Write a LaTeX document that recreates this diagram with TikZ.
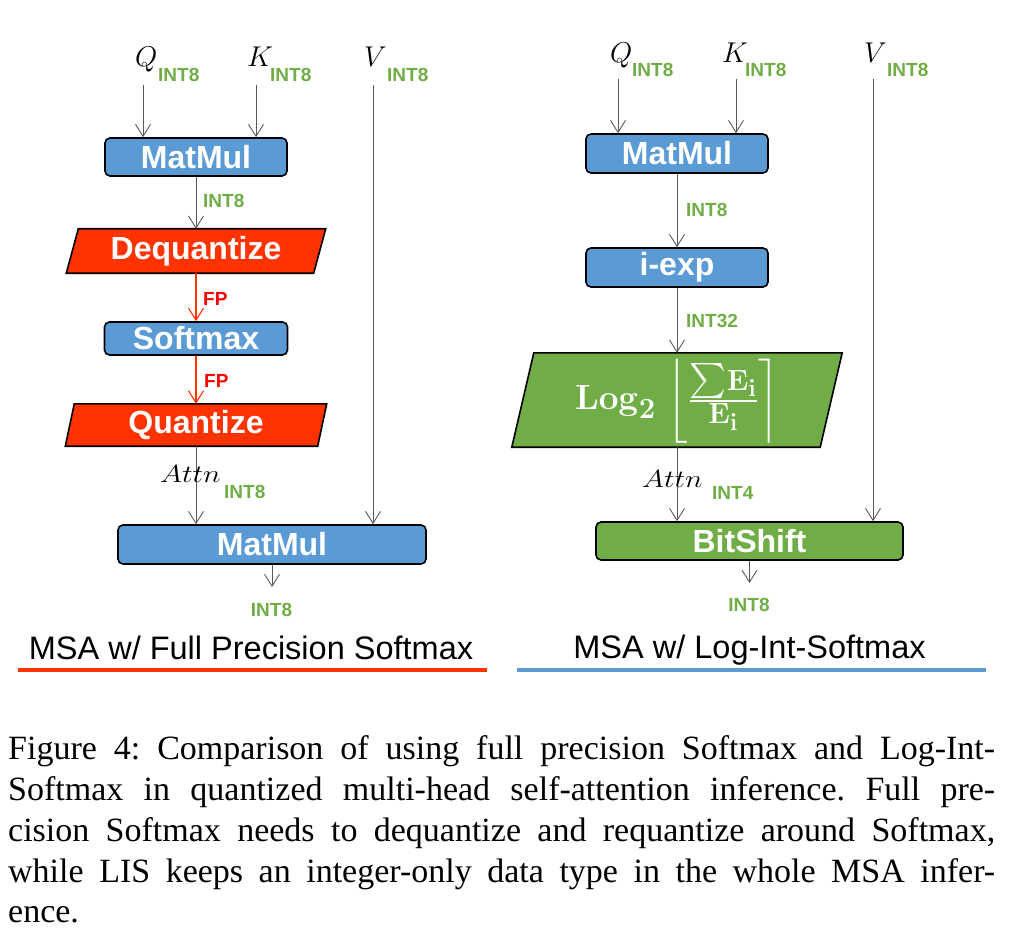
\RequirePackage{fix-cm}
\documentclass[tikz,border=0pt]{standalone}
\usepackage{amsmath}
\usepackage{graphicx}
\usepackage[no-math]{fontspec}
\setmainfont{Liberation Serif}
\setsansfont{Liberation Sans}
\usetikzlibrary{arrows.meta,backgrounds}
\definecolor{boxblue}{HTML}{5B9BD5}
\definecolor{boxred}{HTML}{FF3300}
\definecolor{boxgreen}{HTML}{70AD47}
\definecolor{txtgreen}{HTML}{70AD47}
\definecolor{fpred}{HTML}{FF0000}
\definecolor{arrowgray}{HTML}{595959}
\newcommand\labelfont{\sffamily\bfseries\fontsize{32}{36}\selectfont}
\newcommand\subfont{\sffamily\bfseries\fontsize{19}{22}\selectfont}
\newcommand\mathbase{\fontsize{24.88}{30}\selectfont}
\newcommand\titlefont{\sffamily\fontsize{32.5}{36}\selectfont}
\newcommand\capfont{\rmfamily\fontsize{34}{40}\selectfont\frenchspacing}
\newcommand\bigvar[1]{\scalebox{1.15}{$#1$}}
\newcommand\attnword{\scalebox{1.2}[1.0]{$Attn$}}
\tikzset{
  box/.style={draw=black, line width=1.6pt, rounded corners=5pt, inner sep=0pt, font=\labelfont, text=white},
  pnode/.style={inner sep=0pt, font=\labelfont, text=white},
  pgram/.style={draw=black, line width=1.6pt},
  flow/.style={draw=arrowgray, line width=0.9pt, -{Straight Barb[length=12pt,width=15pt]}},
  fpflow/.style={draw=boxred, line width=1.1pt, -{Straight Barb[length=12pt,width=15pt]}},
  sublabel/.style={anchor=base west, inner sep=0pt, font=\subfont, text=txtgreen},
  fplabel/.style={anchor=base west, inner sep=0pt, font=\subfont, text=fpred},
  varlabel/.style={anchor=base west, inner sep=0pt, font=\mathbase},
  title/.style={anchor=base, inner sep=0pt, font=\titlefont},
  capline/.style={anchor=base west, inner sep=0pt, font=\capfont},
}
\begin{document}
\begin{tikzpicture}[x=1pt,y=-1pt]
\useasboundingbox (0,0) rectangle (1012,944);

% ---------------- left panel ----------------
\node[varlabel] (Q1) at (135,67) {\bigvar{Q}};
\node[sublabel] (Q1s) at (158,82) {INT8};
\node[varlabel] (K1) at (247,67) {\bigvar{K}};
\node[sublabel] (K1s) at (270,82) {INT8};
\node[varlabel] (V1) at (364,67) {\bigvar{V}};
\node[sublabel] (V1s) at (387,82) {INT8};
\coordinate (q1) at (143,85);
\coordinate (k1) at (256,85);
\coordinate (v1) at (373,85);

\node[box, fill=boxblue, minimum width=182pt, minimum height=38pt] (mm1) at (196,157) {MatMul};
\node[pnode, minimum width=259pt, minimum height=44pt] (deq) at (196,251) {Dequantize};
\node[box, fill=boxblue, minimum width=183pt, minimum height=33pt] (sm) at (196,338.5) {Softmax};
\node[pnode, minimum width=261pt, minimum height=42pt] (qua) at (196,425) {Quantize};
\node[box, fill=boxblue, minimum width=308pt, minimum height=39pt] (mm2) at (272,544.5) {MatMul};
\begin{scope}[on background layer]
  \filldraw[pgram, fill=boxred] ([xshift=12pt]deq.north west) -- (deq.north east) -- ([xshift=-12pt]deq.south east) -- (deq.south west) -- cycle;
  \filldraw[pgram, fill=boxred] ([xshift=9pt]qua.north west) -- (qua.north east) -- ([xshift=-9pt]qua.south east) -- (qua.south west) -- cycle;
\end{scope}

\draw[flow] (q1) -- (q1 |- mm1.north);
\draw[flow] (k1) -- (k1 |- mm1.north);
\draw[flow] (v1) -- (v1 |- mm2.north);
\draw[flow] (mm1.south) -- (deq.north);
\node[sublabel] (l1) at (203,208) {INT8};
\draw[fpflow] (deq.south) -- (sm.north);
\node[fplabel] (fp1) at (203,305) {FP};
\draw[fpflow] (sm.south) -- (qua.north);
\node[fplabel] (fp2) at (204,387) {FP};
\draw[flow] (qua.south) -- (qua.south |- mm2.north);
\node[varlabel] (at1) at (160,482) {\attnword};
\node[sublabel] (at1s) at (224,498) {INT8};
\coordinate (o1) at (272,587);
\draw[flow] (mm2.south) -- (o1);
\node[anchor=base, inner sep=0pt, font=\subfont, text=txtgreen] (out1) at (271.5,616) {INT8};

\node[title] (t1) at (251,659) {MSA w/ Full Precision Softmax};
\draw[boxred, line width=4pt] (18,670) -- (487,670);

% ---------------- right panel ----------------
\node[varlabel] (Q2) at (610,63) {\bigvar{Q}};
\node[sublabel] (Q2s) at (632,77) {INT8};
\node[varlabel] (K2) at (722,63) {\bigvar{K}};
\node[sublabel] (K2s) at (745,77) {INT8};
\node[varlabel] (V2) at (864,63) {\bigvar{V}};
\node[sublabel] (V2s) at (887,77) {INT8};
\coordinate (q2) at (618,79);
\coordinate (k2) at (736,79);
\coordinate (v2) at (873,79);

\node[box, fill=boxblue, minimum width=182pt, minimum height=39pt] (mm3) at (677,153.5) {MatMul};
\node[box, fill=boxblue, minimum width=182pt, minimum height=39pt] (iexp) at (677,267.5) {i-exp};
\node[pnode, minimum width=330pt, minimum height=94pt] (lg) at (677,400) {};
\node[inner sep=0pt, text=white, font=\mathbase] (lgt) at (677,401)
  {\scalebox{1.41}{$\mathbf{Log}_{\mathbf{2}}\,\left\lfloor\rule[-19.5pt]{0pt}{51pt}\frac{{\textstyle\sum}\mathbf{E}_{\mathbf{i}}}{\mathbf{E}_{\mathbf{i}}}\right\rceil$}};
\node[box, fill=boxgreen, minimum width=307pt, minimum height=38pt] (bs) at (749.5,541) {BitShift};
\begin{scope}[on background layer]
  \filldraw[pgram, fill=boxgreen] ([xshift=22pt]lg.north west) -- (lg.north east) -- ([xshift=-22pt]lg.south east) -- (lg.south west) -- cycle;
\end{scope}

\draw[flow] (q2) -- (q2 |- mm3.north);
\draw[flow] (k2) -- (k2 |- mm3.north);
\draw[flow] (v2) -- (v2 |- bs.north);
\draw[flow] (mm3.south) -- (iexp.north);
\node[sublabel] (l2) at (686,217) {INT8};
\draw[flow] (iexp.south) -- (lg.north);
\node[sublabel] (l3) at (686,327) {INT32};
\draw[flow] (lg.south) -- (lg.south |- bs.north);
\node[varlabel] (at2) at (642,487) {\attnword};
\node[sublabel] (at2s) at (712,499) {INT4};
\coordinate (o2) at (749.5,583);
\draw[flow] (bs.south) -- (o2);
\node[anchor=base, inner sep=0pt, font=\subfont, text=txtgreen] (out2) at (749,611) {INT8};

\node[title] (t2) at (749.5,658) {MSA w/ Log-Int-Softmax};
\draw[boxblue, line width=4pt] (517,670) -- (986,670);

% ---------------- caption ----------------
\node[capline] (c1) at (8,759) {\makebox[987pt][s]{Figure 4: Comparison of using full precision Softmax and Log-Int-}};
\node[capline] (c2) at (8,800) {\makebox[987pt][s]{Softmax in quantized multi-head self-attention inference. Full pre-}};
\node[capline] (c3) at (8,841) {\makebox[987pt][s]{cision Softmax needs to dequantize and requantize around Softmax,}};
\node[capline] (c4) at (8,882) {\makebox[987pt][s]{while LIS keeps an integer-only data type in the whole MSA infer-}};
\node[capline] (c5) at (8,922) {ence.};
\end{tikzpicture}
\end{document}
